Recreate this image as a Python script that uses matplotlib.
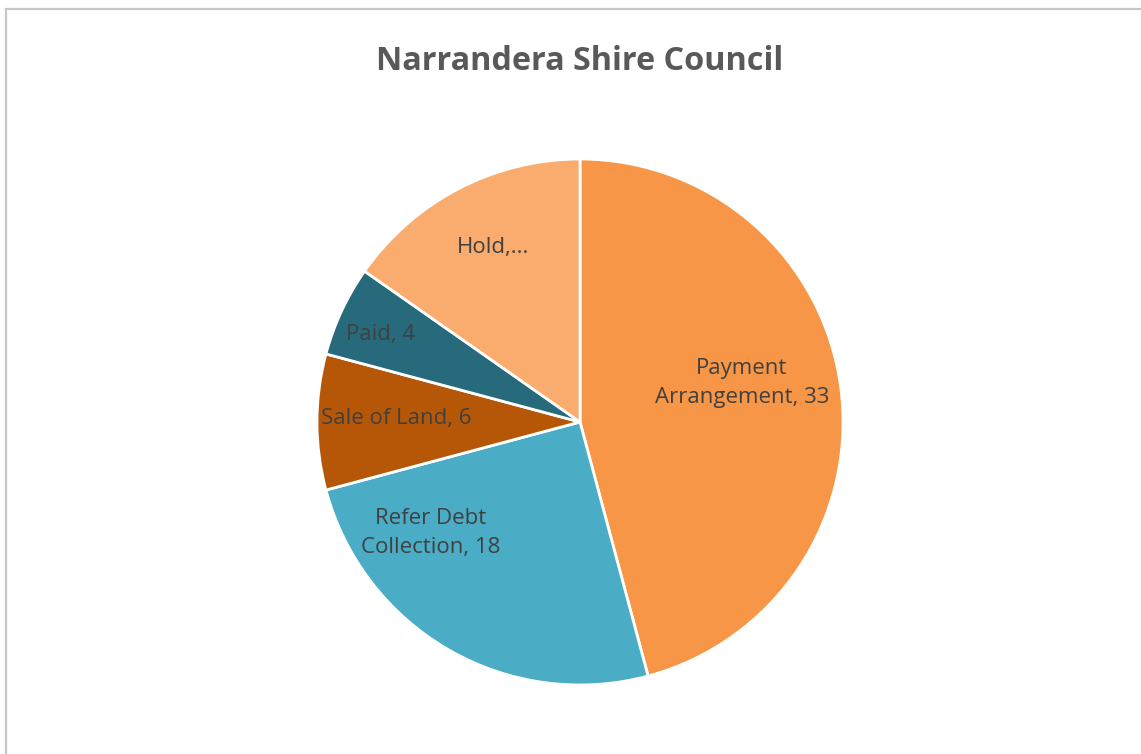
import matplotlib.pyplot as plt
from matplotlib.patches import Rectangle

plt.rcParams['font.family'] = ['Open Sans', 'DejaVu Sans']

# data
categories = ['Payment Arrangement', 'Refer Debt Collection', 'Sale of Land', 'Paid', 'Hold']
values = [33, 18, 6, 4, 11]
colors = ['#F79646', '#4BACC6', '#B65708', '#276A7C', '#F9AC6E']
label_text = ['Payment\nArrangement, 33', 'Refer Debt\nCollection, 18', 'Sale of Land, 6', 'Paid, 4', 'Hold,...']
# label spots inside the pie (unit radius)
label_pos = [(0.616, 0.148), (-0.567, -0.422), (-0.70, 0.015), (-0.757, 0.331), (-0.331, 0.662)]

W, H = 1141, 754
fig = plt.figure(figsize=(W / 100, H / 100), dpi=100)

# chart frame (only top and left edges fall inside the picture)
fig.patches.append(Rectangle((5.5 / W, -1), 2, 1 + (H - 9) / H, transform=fig.transFigure,
                             fill=False, edgecolor='#c6c6c6', linewidth=1.6))

cx, cy, r = 580, 422, 263
ax = fig.add_axes([(cx - r) / W, (H - cy - r) / H, 2 * r / W, 2 * r / H])
ax.pie(values, colors=colors, startangle=90, counterclock=False,
       wedgeprops=dict(edgecolor='white', linewidth=2))
ax.set_xlim(-1, 1)
ax.set_ylim(-1, 1)
ax.set_aspect('equal')
ax.axis('off')

for txt, (x, y) in zip(label_text, label_pos):
    ax.text(x, y, txt, ha='center', va='center', fontsize=16, color='#404040',
            linespacing=1.45)

fig.text(cx / W, 1 - 70 / H, 'Narrandera Shire Council', ha='center', va='baseline',
         fontsize=23.3, fontweight='bold', color='#595959')

fig.savefig('out.png', dpi=100)
